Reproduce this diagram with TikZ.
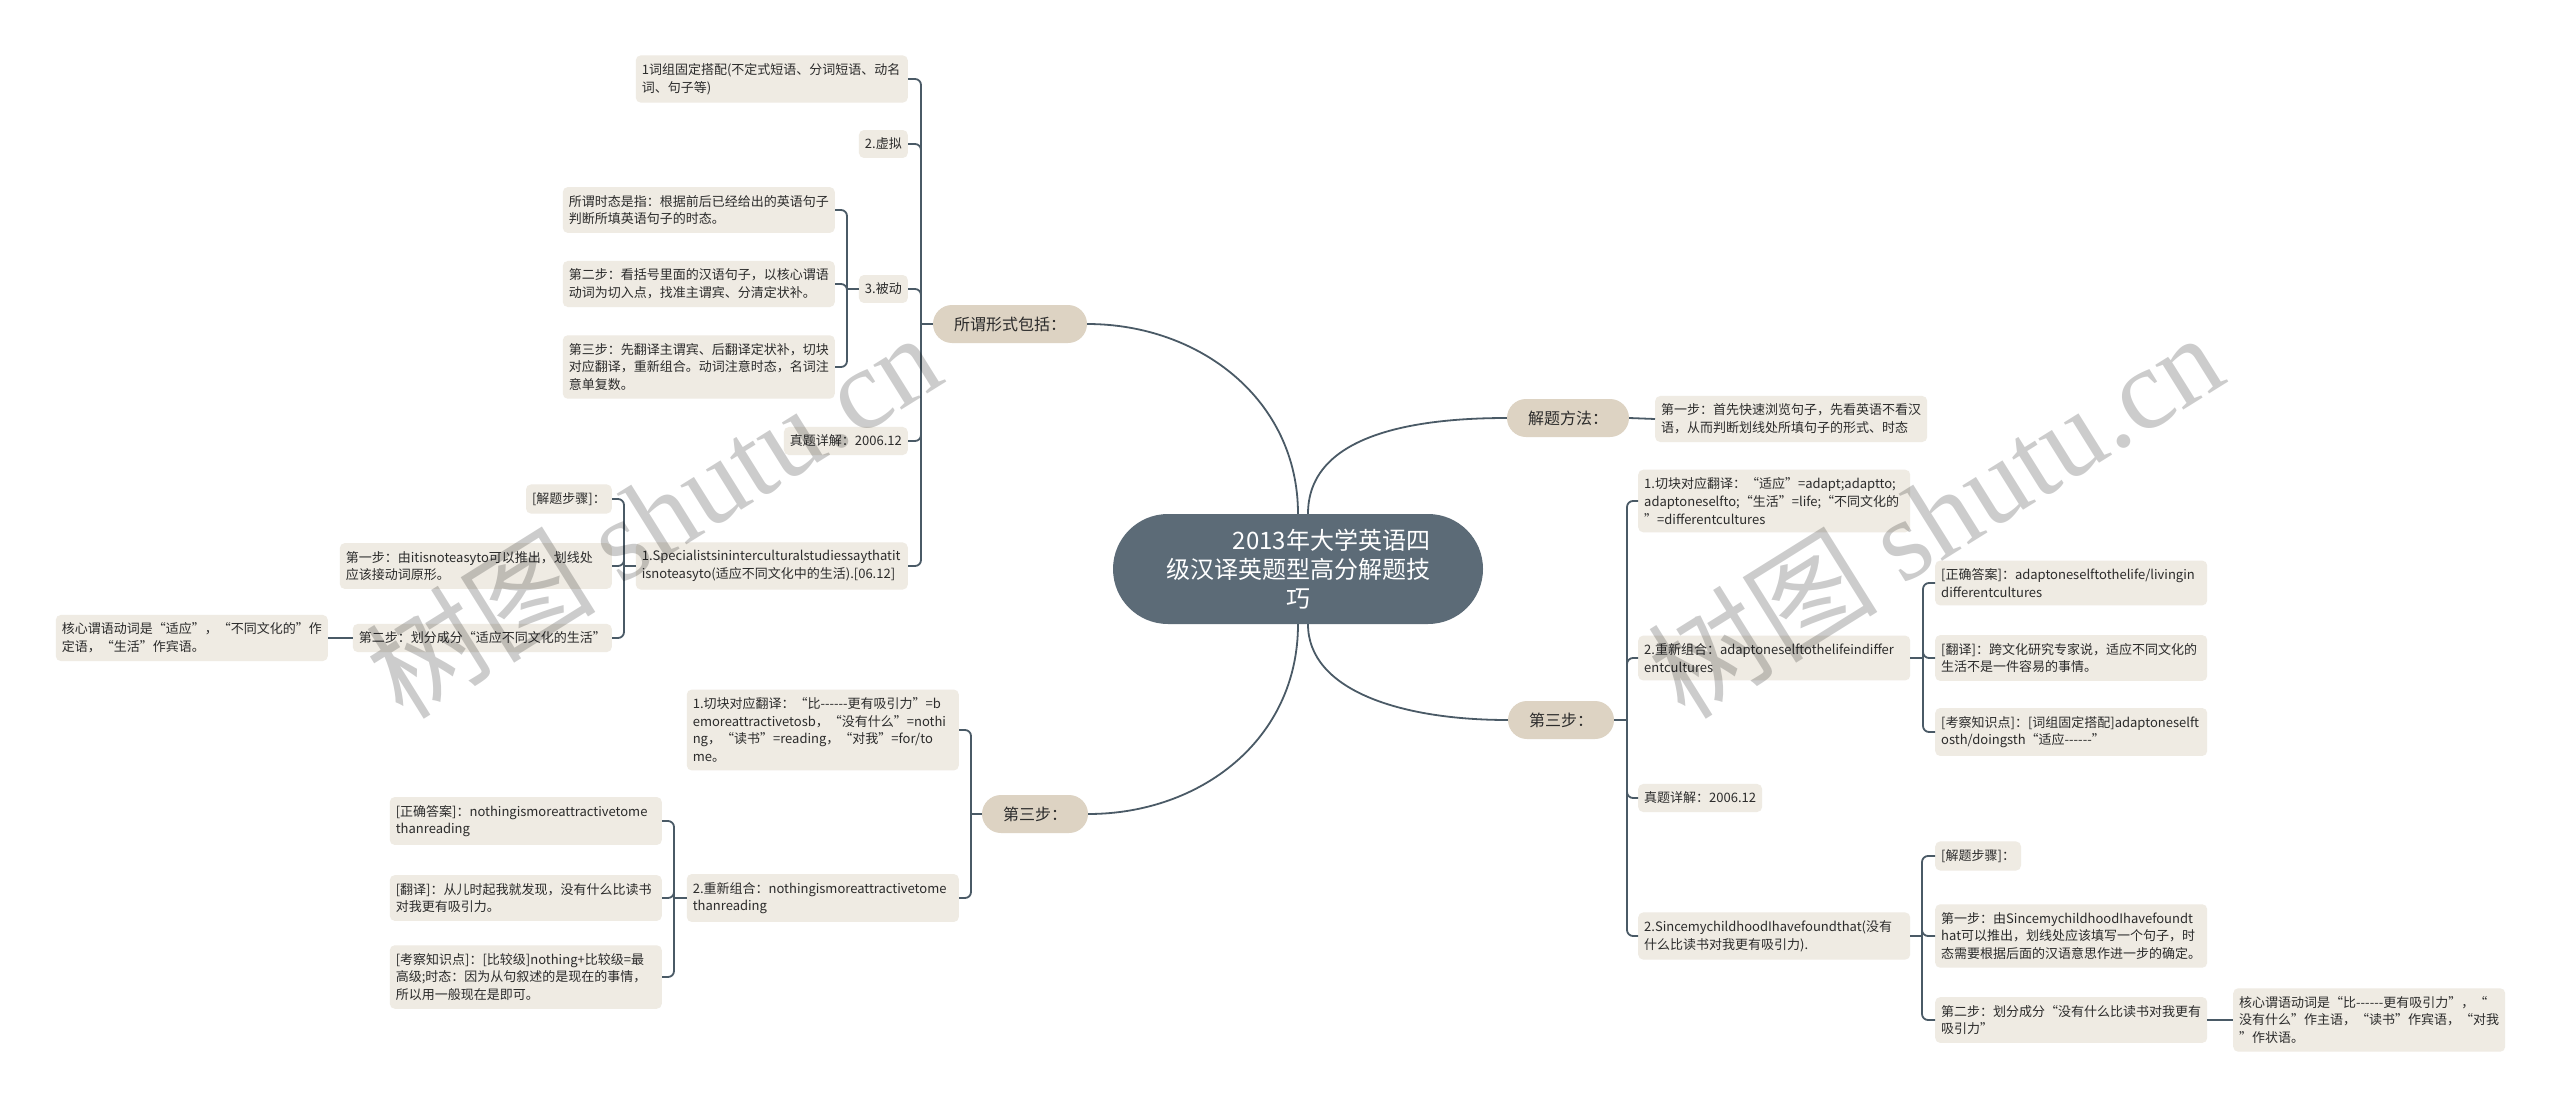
\documentclass[tikz,border=0pt]{standalone}
\usepackage{fontspec}
\newfontfamily\cjk{Noto Sans CJK SC}
\newfontfamily\wmserif{Liberation Serif}
\hyphenpenalty=10000
\exhyphenpenalty=10000
\definecolor{leafc}{HTML}{EFEBE3}
\definecolor{brc}{HTML}{DDD3C3}
\definecolor{rootc}{HTML}{5C6B77}
\definecolor{linec}{HTML}{4A5A66}
\definecolor{txt}{HTML}{2B2B2B}
\begin{document}
\begin{tikzpicture}[x=1pt,y=-1pt,
  leaf/.style={fill=leafc, rounded corners=5pt, inner xsep=6pt, inner ysep=8pt,
    font=\cjk\fontsize{13}{17.7}\selectfont, text=txt, align=left},
  leafw/.style={leaf, text width=260pt},
  branch/.style={fill=brc, rounded corners=19pt, minimum height=38pt, inner xsep=21pt,
    font=\cjk\fontsize{16}{20}\selectfont, text=txt},
  root/.style={fill=rootc, rounded corners=55pt, minimum width=370pt, minimum height=110pt,
    text=white, font=\cjk\fontsize{24}{29}\selectfont, align=center},
  conn/.style={draw=linec, line width=1.8pt},
  brk/.style={conn, rounded corners=6pt},
  wm/.style={rotate=32, opacity=0.2, text=black}
]
\fill[white] (0,0) rectangle (2560,1108);
\useasboundingbox (0,0) rectangle (2560,1108);

% root
\node[root] (root) at (1298,569) {\begin{tabular}[b]{@{}r@{}}2013年大学英语四\\级汉译英题型高分解题技\end{tabular}\\巧};

% branches
\node[branch] (b1) at (1010,324) {所谓形式包括：};
\node[branch] (b2) at (1568,418) {解题方法：};
\node[branch] (b3) at (1561,720) {第三步：};
\node[branch] (b4) at (1035,814) {第三步：};

% left upper branch children
\node[leafw, anchor=east] (l1) at (908,79) {1词组固定搭配(不定式短语、分词短语、动名\\词、句子等)};
\node[leaf, anchor=east] (l2) at (908,144) {2.虚拟};
\node[leaf, anchor=east] (l3) at (908,289) {3.被动};
\node[leafw, anchor=east] (l3a) at (835,210) {所谓时态是指：根据前后已经给出的英语句子\\判断所填英语句子的时态。};
\node[leafw, anchor=east] (l3b) at (835,284) {第二步：看括号里面的汉语句子，以核心谓语\\动词为切入点，找准主谓宾、分清定状补。};
\node[leafw, anchor=east] (l3c) at (835,367) {第三步：先翻译主谓宾、后翻译定状补，切块\\对应翻译，重新组合。动词注意时态，名词注\\意单复数。};
\node[leaf, anchor=east] (l4) at (908,441) {真题详解：2006.12};
\node[leafw, anchor=east] (l5) at (908,566) {1.Specialistsininterculturalstudiessaythatit\\isnoteasyto(适应不同文化中的生活).[06.12]};
\node[leaf, anchor=east] (l5a) at (612,499) {[解题步骤]：};
\node[leafw, anchor=east] (l5b) at (612,566) {第一步：由itisnoteasyto可以推出，划线处\\应该接动词原形。};
\node[leaf, anchor=east] (l5c) at (612,638) {第二步：划分成分“适应不同文化的生活”};
\node[leafw, anchor=east] (l5d) at (328,638) {核心谓语动词是“适应”，“不同文化的”作\\定语，“生活”作宾语。};

% left lower branch children
\node[leafw, anchor=east] (m1) at (959,730) {1.切块对应翻译：“比------更有吸引力”=b\\emoreattractivetosb，“没有什么”=nothi\\ng，“读书”=reading，“对我”=for/to\\me。};
\node[leafw, anchor=east] (m2) at (959,898) {2.重新组合：nothingismoreattractivetome\\thanreading};
\node[leafw, anchor=east] (m2a) at (662,821) {[正确答案]：nothingismoreattractivetome\\thanreading};
\node[leafw, anchor=east] (m2b) at (662,898) {[翻译]：从儿时起我就发现，没有什么比读书\\对我更有吸引力。};
\node[leafw, anchor=east] (m2c) at (662,977) {[考察知识点]：[比较级]nothing+比较级=最\\高级;时态：因为从句叙述的是现在的事情，\\所以用一般现在是即可。};

% right upper
\node[leafw, anchor=west] (r1) at (1655,419) {第一步：首先快速浏览句子，先看英语不看汉\\语，从而判断划线处所填句子的形式、时态};

% right lower
\node[leafw, anchor=west] (s1) at (1638,501) {1.切块对应翻译：“适应”=adapt;adaptto;\\adaptoneselfto;“生活”=life;“不同文化的\\”=differentcultures};
\node[leafw, anchor=west] (s2) at (1638,658) {2.重新组合：adaptoneselftothelifeindiffer\\entcultures};
\node[leafw, anchor=west] (s2a) at (1935,583) {[正确答案]：adaptoneselftothelife/livingin\\differentcultures};
\node[leafw, anchor=west] (s2b) at (1935,658) {[翻译]：跨文化研究专家说，适应不同文化的\\生活不是一件容易的事情。};
\node[leafw, anchor=west] (s2c) at (1935,732) {[考察知识点]：[词组固定搭配]adaptoneselft\\osth/doingsth“适应------”};
\node[leaf, anchor=west] (s3) at (1638,798) {真题详解：2006.12};
\node[leafw, anchor=west] (s4) at (1638,936) {2.SincemychildhoodIhavefoundthat(没有\\什么比读书对我更有吸引力).};
\node[leaf, anchor=west] (s4a) at (1935,856) {[解题步骤]：};
\node[leafw, anchor=west] (s4b) at (1935,936) {第一步：由SincemychildhoodIhavefoundt\\hat可以推出，划线处应该填写一个句子，时\\态需要根据后面的汉语意思作进一步的确定。};
\node[leafw, anchor=west] (s4c) at (1935,1020) {第二步：划分成分“没有什么比读书对我更有\\吸引力”};
\node[leafw, anchor=west] (s4d) at (2233,1020) {核心谓语动词是“比------更有吸引力”，“\\没有什么”作主语，“读书”作宾语，“对我\\”作状语。};

% bracket coordinates
\coordinate (x1) at (921,0);
\coordinate (x3) at (847,0);
\coordinate (x5) at (624,0);
\coordinate (x4) at (971,0);
\coordinate (xm) at (674,0);
\coordinate (y3) at (1627,0);
\coordinate (ys2) at (1923,0);
\coordinate (ys4) at (1922,0);

% root connectors
\draw[conn] (b1.east) .. controls (1200,324) and (1298,400) .. (root.north);
\draw[conn] ([xshift=10pt]root.north) .. controls (1308,440) and (1400,418) .. (b2.west);
\draw[conn] ([xshift=10pt]root.south) .. controls (1308,690) and (1400,720) .. (b3.west);
\draw[conn] (root.south) .. controls (1298,740) and (1200,814) .. (b4.east);

% left upper brackets
\draw[conn] (b1.west) -- (b1.west -| x1);
\foreach \c in {l1,l2,l3,l4,l5} \draw[brk] (b1.west -| x1) |- (\c.east);
\draw[conn] (l3.west) -- (l3.west -| x3);
\foreach \c in {l3a,l3b,l3c} \draw[brk] (l3.west -| x3) |- (\c.east);
\draw[conn] (l5.west) -- (l5.west -| x5);
\foreach \c in {l5a,l5b,l5c} \draw[brk] (l5.west -| x5) |- (\c.east);
\draw[conn] (l5c.west) -- (l5d.east);

% left lower brackets
\draw[conn] (b4.west) -- (b4.west -| x4);
\foreach \c in {m1,m2} \draw[brk] (b4.west -| x4) |- (\c.east);
\draw[conn] (m2.west) -- (m2.west -| xm);
\foreach \c in {m2a,m2b,m2c} \draw[brk] (m2.west -| xm) |- (\c.east);

% right
\draw[conn] (b2.east) -- (r1.west);
\draw[conn] (b3.east) -- (b3.east -| y3);
\foreach \c in {s1,s2,s3,s4} \draw[brk] (b3.east -| y3) |- (\c.west);
\draw[conn] (s2.east) -- (s2.east -| ys2);
\foreach \c in {s2a,s2b,s2c} \draw[brk] (s2.east -| ys2) |- (\c.west);
\draw[conn] (s4.east) -- (s4.east -| ys4);
\foreach \c in {s4a,s4b,s4c} \draw[brk] (s4.east -| ys4) |- (\c.west);
\draw[conn] (s4c.east) -- (s4d.west);

% watermarks
\node[wm, font=\cjk\fontsize{115}{115}\selectfont] (wm1) at (653,514) {树图 {\wmserif shutu.cn}};
\node[wm, font=\cjk\fontsize{115}{115}\selectfont] (wm2) at (1935,514) {树图 {\wmserif shutu.cn}};
\end{tikzpicture}
\end{document}
